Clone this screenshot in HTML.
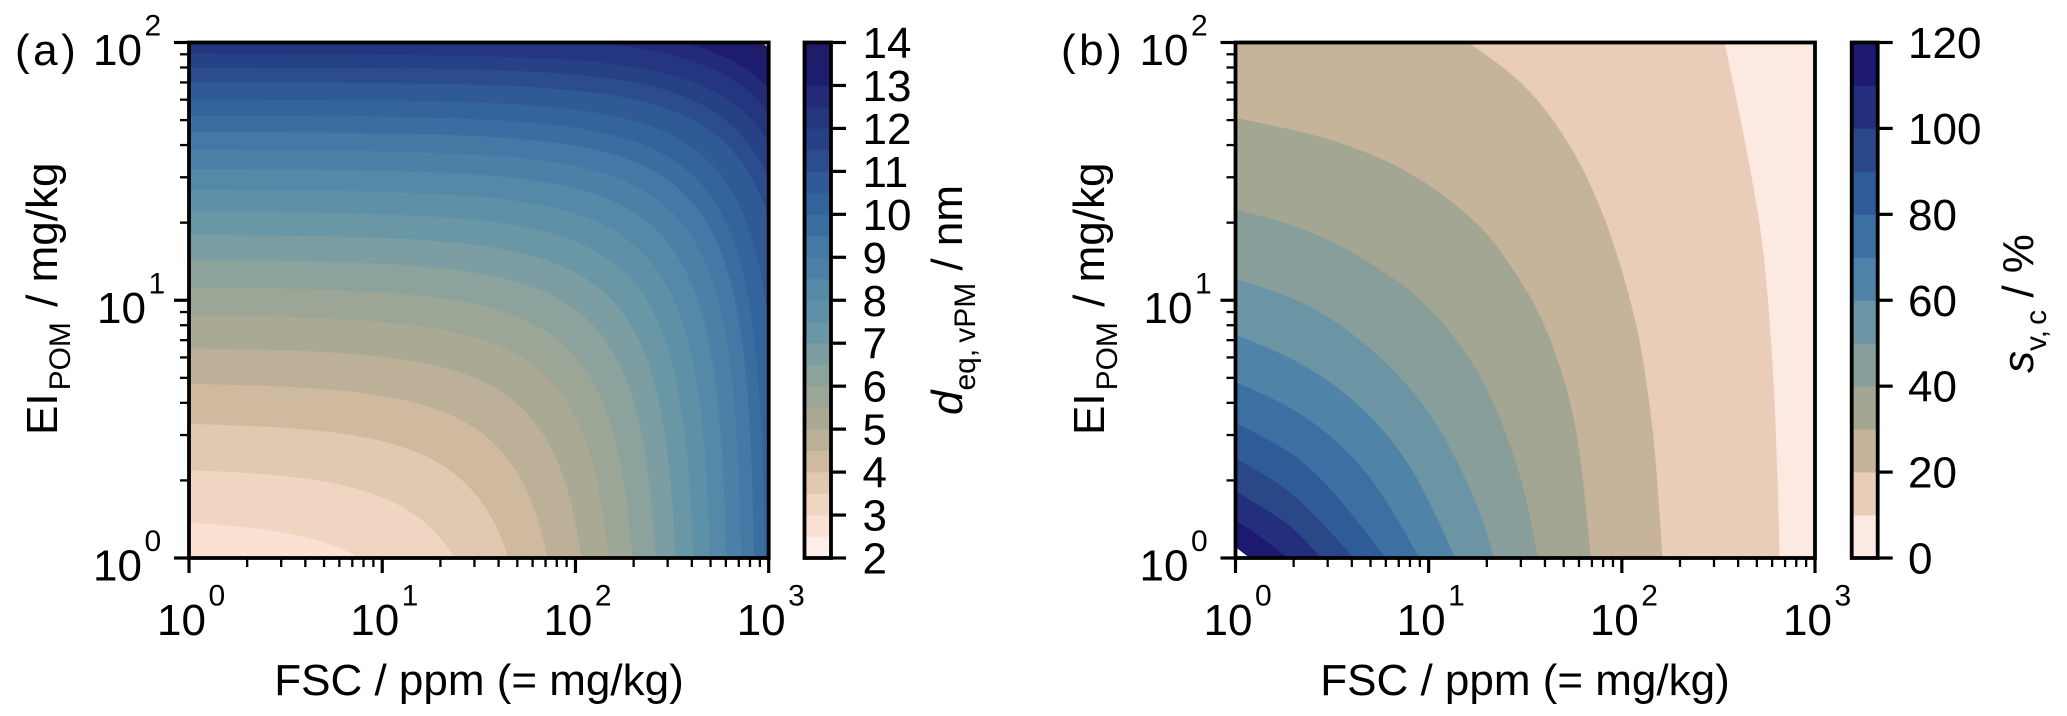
<!DOCTYPE html>
<html lang="en">
<head>
<meta charset="utf-8">
<title>Contour maps of vPM diameter and coating fraction</title>
<style>
  html, body { margin: 0; padding: 0; background: #fff; }
  svg { display: block; }
  text { font-family: "Liberation Sans", Arial, sans-serif; fill: #000; }
</style>
</head>
<body>
<svg id="figure" xmlns="http://www.w3.org/2000/svg" width="2067" height="716" viewBox="0 0 2067 716">
  <rect x="0" y="0" width="2067" height="716" fill="#ffffff"/>
  <defs>
    <clipPath id="clip-a"><rect x="189" y="42.5" width="579.7" height="515.5"/></clipPath>
    <clipPath id="clip-b"><rect x="1235.5" y="42.5" width="579.5" height="515.5"/></clipPath>
  </defs>

  <g id="bands-a" clip-path="url(#clip-a)"></g>
  <g id="bands-b" clip-path="url(#clip-b)"></g>
  <g id="cbar-a"></g>
  <g id="cbar-b"></g>
  <g id="axes-a"></g>
  <g id="axes-b"></g>

  <text x="15" y="65" font-size="44" letter-spacing="3.5">(a)</text>
  <text x="1061" y="65" font-size="44" letter-spacing="3.5">(b)</text>

  <text x="479" y="695" font-size="44" text-anchor="middle">FSC / ppm (= mg/kg)</text>
  <text x="1525" y="695" font-size="44" text-anchor="middle">FSC / ppm (= mg/kg)</text>

  <text transform="translate(57,435) rotate(-90)" font-size="44">EI<tspan dx="3" dy="13" font-size="30">POM</tspan><tspan dx="3" dy="-13"> / mg/kg</tspan></text>
  <text transform="translate(1104,435) rotate(-90)" font-size="44">EI<tspan dx="3" dy="13" font-size="30">POM</tspan><tspan dx="3" dy="-13"> / mg/kg</tspan></text>

  <text transform="translate(962,415) rotate(-90)" font-size="44"><tspan font-style="italic">d</tspan><tspan dy="13" font-size="30">eq,</tspan><tspan dx="6" font-size="30">vPM</tspan><tspan dy="-13"> / nm</tspan></text>
  <text transform="translate(2033,373) rotate(-90)" font-size="44"><tspan font-style="italic">s</tspan><tspan dy="13" font-size="30">v,</tspan><tspan dx="5" font-size="30">c</tspan><tspan dy="-13"> / %</tspan></text>
</svg>

<script>
// ---- Chart values ----

// Shared log axes
const fscTickExponents = [0, 1, 2, 3];
const eiTickExponents = [0, 1, 2];
const minorMultipliers = [2, 3, 4, 5, 6, 7, 8, 9];

// Panel (a): contour levels of d_eq,vPM (nm). Each iso-line is straight in linear
// FSC/EI space; it is given by where it meets FSC = 1 and EI = 1 (mg/kg).
const deqLevels = [3, 3.5, 4, 4.5, 5, 5.5, 6, 6.5, 7, 7.5, 8, 8.5, 9, 9.5, 10, 10.5, 11, 11.5, 12, 12.5, 13, 13.5, 14];
const eiAtFsc1 = [1.37, 2.19, 3.31, 4.73, 6.5, 8.7, 11.2, 14.3, 17.9, 22, 26.8, 32.3, 38.3, 44.9, 52, 60, 70, 80, 90, 106, 119, 135, 147];
const fscAtEi1 = [7.65, 23.7, 45, 71.6, 107, 148, 197, 259, 329, 407, 497, 603, 721, 841, 957, 1135, 1400, 1568, 1820, 2000, 2230, 2570, 2830];
const deqTicks = [2, 3, 4, 5, 6, 7, 8, 9, 10, 11, 12, 13, 14];
const deqBandEdges = [2, 2.5, 3, 3.5, 4, 4.5, 5, 5.5, 6, 6.5, 7, 7.5, 8, 8.5, 9, 9.5, 10, 10.5, 11, 11.5, 12, 12.5, 13, 13.5, 14];

// Panel (b): contour levels of s_v,c (%), traced as log10(FSC) / log10(EI) points.
const svLevels = [10, 20, 30, 40, 50, 60, 70, 80, 90, 100, 110, 120];
const svLogFsc = [
  [2.532, 2.6, 2.668, 2.727, 2.76, 2.784, 2.799, 2.811, 2.816],
  [1.205, 1.371, 1.527, 1.664, 1.781, 1.878, 1.956, 2.034, 2.093, 2.142, 2.181, 2.21],
  [0, 0.357, 0.65, 0.845, 1.02, 1.176, 1.313, 1.449, 1.566, 1.664, 1.742, 1.8, 1.839],
  [0, 0.259, 0.513, 0.747, 0.942, 1.137, 1.293, 1.43, 1.527, 1.566],
  [0, 0.259, 0.494, 0.708, 0.884, 1.059, 1.196, 1.283, 1.338],
  [0, 0.201, 0.454, 0.65, 0.825, 0.981, 1.137],
  [0, 0.22, 0.435, 0.611, 0.786, 0.952],
  [0, 0.201, 0.396, 0.591, 0.776],
  [0, 0.181, 0.396, 0.611],
  [0, 0.181, 0.318, 0.441],
  [0, 0.142, 0.269],
  [0, 0.074]
];
const svLogEi = [
  [2, 1.759, 1.499, 1.239, 0.978, 0.718, 0.458, 0.198, 0],
  [2, 1.915, 1.811, 1.681, 1.538, 1.382, 1.226, 1.031, 0.848, 0.614, 0.354, 0],
  [1.707, 1.655, 1.584, 1.518, 1.44, 1.349, 1.252, 1.109, 0.965, 0.783, 0.588, 0.328, 0],
  [1.353, 1.304, 1.226, 1.122, 1.018, 0.861, 0.679, 0.432, 0.172, 0],
  [1.083, 1.024, 0.933, 0.809, 0.679, 0.504, 0.302, 0.146, 0],
  [0.865, 0.809, 0.705, 0.588, 0.445, 0.263, 0],
  [0.682, 0.614, 0.51, 0.393, 0.224, 0],
  [0.523, 0.452, 0.347, 0.185, 0],
  [0.386, 0.315, 0.185, 0],
  [0.26, 0.178, 0.107, 0],
  [0.146, 0.081, 0],
  [0.042, 0]
];
const svTicks = [0, 20, 40, 60, 80, 100, 120];
const svBandEdges = [0, 10, 20, 30, 40, 50, 60, 70, 80, 90, 100, 110, 120];

// ---- Palettes ----
const deqPalette = ['#fdeeea','#fbe1d4','#f0d5c3','#e1c8b0','#d0ba9f','#bcb098','#aaa993','#9ca697','#8ca29c','#7c9ea2','#6a97a6','#5e91a8','#5489a8','#4c80a7','#4478a5','#3a6ea0','#33649b','#2f5a96','#2b4d8e','#274186','#253680','#232b79','#1e1c6e','#1f1d68','#ffffff'];
const svPalette = ['#fce9e2','#e9cdb9','#c6b49a','#a4a694','#889e9b','#6b94a5','#4f83a7','#3c6fa2','#2f5c98','#2a4788','#232e7c','#1d1870','#ffffff'];

// ---- Helpers ----
const SVGNS = 'http://www.w3.org/2000/svg';
function svgEl(tag, parent) {
  const el = document.createElementNS(SVGNS, tag);
  parent.appendChild(el);
  return el;
}
function setLine(el, x1, y1, x2, y2, w) {
  el.setAttribute('x1', x1);
  el.setAttribute('y1', y1);
  el.setAttribute('x2', x2);
  el.setAttribute('y2', y2);
  el.setAttribute('stroke', '#000');
  el.setAttribute('stroke-width', w);
}
function tickLabel(el, x, y, base, exponent) {
  el.setAttribute('x', x);
  el.setAttribute('y', y);
  el.setAttribute('font-size', '44');
  el.textContent = base;
  if (exponent !== undefined) {
    const sup = svgEl('tspan', el);
    
    
    sup.setAttribute('dx', '2.5');
    sup.setAttribute('dy', '-29.5');
    sup.setAttribute('font-size', '30');
    sup.textContent = exponent;
  }
}

function makeAxes(left, right, top, bottom) {
  const frame = { left: left, right: right, top: top, bottom: bottom };
  frame.x = function (logFsc) { return left + (logFsc / 3) * (right - left); };
  frame.y = function (logEi) { return bottom - (logEi / 2) * (bottom - top); };
  return frame;
}
const axA = makeAxes(189, 768.7, 42.5, 558);
const axB = makeAxes(1235.5, 1815, 42.5, 558);

// Quadratic B-spline through the traced points: keeps the end points on the plot edge
// and irons out small reading noise so the contour stays smooth.
function smoothPath(pts) {
  let d = 'M' + pts[0][0] + ',' + pts[0][1];
  for (let i = 1; i < pts.length - 1; i++) {
    const next = pts[i + 1];
    const isLast = i === pts.length - 2;
    const ex = isLast ? next[0] : (pts[i][0] + next[0]) / 2;
    const ey = isLast ? next[1] : (pts[i][1] + next[1]) / 2;
    d += 'Q' + pts[i][0] + ',' + pts[i][1] + ' ' + ex + ',' + ey;
  }
  if (pts.length === 2) {
    d += 'L' + pts[1][0] + ',' + pts[1][1];
  }
  return d;
}

// ---- Panel (a) filled contours ----
function drawPanelA() {
  const g = document.getElementById('bands-a');
  const base = svgEl('rect', g);
  
  
  base.setAttribute('x', axA.left);
  base.setAttribute('y', axA.top);
  base.setAttribute('width', axA.right - axA.left);
  base.setAttribute('height', axA.bottom - axA.top);
  base.setAttribute('fill', deqPalette[deqBandEdges.indexOf(deqLevels[0]) - 1]);

  deqLevels.forEach(function (level, i) {
    const ei0 = eiAtFsc1[i];
    const fsc0 = fscAtEi1[i];
    const slope = (ei0 - 1) / (fsc0 - 1);
    const pts = [];
    for (let t = 0; t <= 300; t++) {
      const lf = t * 0.01;
      const fsc = Math.pow(10, lf);
      const ei = ei0 - slope * (fsc - 1);
      if (ei <= 1) {
        pts.push([axA.x(Math.log10(fsc0)), axA.y(0)]);
        break;
      }
      pts.push([axA.x(lf), axA.y(Math.log10(ei))]);
    }
    let d = 'M' + pts.map(function (p) { return p[0].toFixed(2) + ',' + p[1].toFixed(2); }).join('L');
    const last = pts[pts.length - 1];
    d += 'L' + (axA.right + 10) + ',' + last[1];
    d += 'L' + (axA.right + 10) + ',' + (axA.top - 60);
    d += 'L' + (axA.left - 10) + ',' + (axA.top - 60);
    d += 'L' + (axA.left - 10) + ',' + pts[0][1] + 'Z';
    const band = svgEl('path', g);
    
    
    band.setAttribute('d', d);
    const idx = deqBandEdges.indexOf(level);
    band.setAttribute('fill', deqPalette[idx]);
  });
}

// ---- Panel (b) filled contours ----
function drawPanelB() {
  const g = document.getElementById('bands-b');
  const base = svgEl('rect', g);
  
  
  base.setAttribute('x', axB.left);
  base.setAttribute('y', axB.top);
  base.setAttribute('width', axB.right - axB.left);
  base.setAttribute('height', axB.bottom - axB.top);
  base.setAttribute('fill', svPalette[0]);

  svLevels.forEach(function (level, i) {
    const pts = svLogFsc[i].map(function (lf, k) {
      return [axB.x(lf), axB.y(svLogEi[i][k])];
    });
    const d = smoothPath(pts) + 'L' + axB.left + ',' + axB.bottom + 'L' + axB.left + ',' + axB.top + 'Z';
    const band = svgEl('path', g);
    
    
    band.setAttribute('d', d);
    band.setAttribute('fill', svPalette[svBandEdges.indexOf(level)]);
  });
}

// ---- Axes with log ticks ----
function drawAxes(ax, id, yLabelX) {
  const g = document.getElementById(id);
  fscTickExponents.forEach(function (e, i) {
    const x = ax.x(e);
    const tick = svgEl('line', g);
    
    
    setLine(tick, x, ax.bottom, x, ax.bottom + 15, 3.2);
    const label = svgEl('text', g);
    
    
    tickLabel(label, x - 32, ax.bottom + 77, '10', e);
    if (i < fscTickExponents.length - 1) {
      minorMultipliers.forEach(function (m) {
        const mx = ax.x(e + Math.log10(m));
        const minor = svgEl('line', g);
        
        
        setLine(minor, mx, ax.bottom, mx, ax.bottom + 9, 2.3);
      });
    }
  });
  eiTickExponents.forEach(function (e, i) {
    const y = ax.y(e);
    const tick = svgEl('line', g);
    
    
    setLine(tick, ax.left - 15, y, ax.left, y, 3.2);
    const label = svgEl('text', g);
    
    
    tickLabel(label, yLabelX + (e === 1 ? 4 : 0), y + 22.5, '10', e);
    if (i < eiTickExponents.length - 1) {
      minorMultipliers.forEach(function (m) {
        const my = ax.y(e + Math.log10(m));
        const minor = svgEl('line', g);
        
        
        setLine(minor, ax.left - 9, my, ax.left, my, 2.3);
      });
    }
  });
  const frame = svgEl('rect', g);
  
  
  frame.setAttribute('x', ax.left);
  frame.setAttribute('y', ax.top);
  frame.setAttribute('width', ax.right - ax.left);
  frame.setAttribute('height', ax.bottom - ax.top);
  frame.setAttribute('fill', 'none');
  frame.setAttribute('stroke', '#000');
  frame.setAttribute('stroke-width', '3.8');
}

// ---- Colorbars ----
function drawColorbar(id, left, right, edges, palette, ticks, labelX) {
  const g = document.getElementById(id);
  const top = 42.5;
  const bottom = 558;
  const lo = edges[0];
  const hi = edges[edges.length - 1];
  const cy = function (v) { return bottom - ((v - lo) / (hi - lo)) * (bottom - top); };
  for (let i = 0; i < edges.length - 1; i++) {
    const seg = svgEl('rect', g);
    
    
    seg.setAttribute('x', left);
    seg.setAttribute('y', cy(edges[i + 1]));
    seg.setAttribute('width', right - left);
    seg.setAttribute('height', cy(edges[i]) - cy(edges[i + 1]) + 0.4);
    seg.setAttribute('fill', palette[i]);
  }
  const border = svgEl('rect', g);
  
  
  border.setAttribute('x', left);
  border.setAttribute('y', top);
  border.setAttribute('width', right - left);
  border.setAttribute('height', bottom - top);
  border.setAttribute('fill', 'none');
  border.setAttribute('stroke', '#000');
  border.setAttribute('stroke-width', '3.8');
  ticks.forEach(function (v) {
    const y = cy(v);
    const tick = svgEl('line', g);
    
    
    setLine(tick, right, y, right + 15, y, 3.2);
    const label = svgEl('text', g);
    
    
    tickLabel(label, labelX, y + 15.5, String(v));
  });
}

drawPanelA();
drawPanelB();
drawColorbar('cbar-a', 804.5, 831, deqBandEdges, deqPalette, deqTicks, 862.5);
drawColorbar('cbar-b', 1851.7, 1877.7, svBandEdges, svPalette, svTicks, 1908);
drawAxes(axA, 'axes-a', 93);
drawAxes(axB, 'axes-b', 1139.5);
</script>
</body>
</html>
